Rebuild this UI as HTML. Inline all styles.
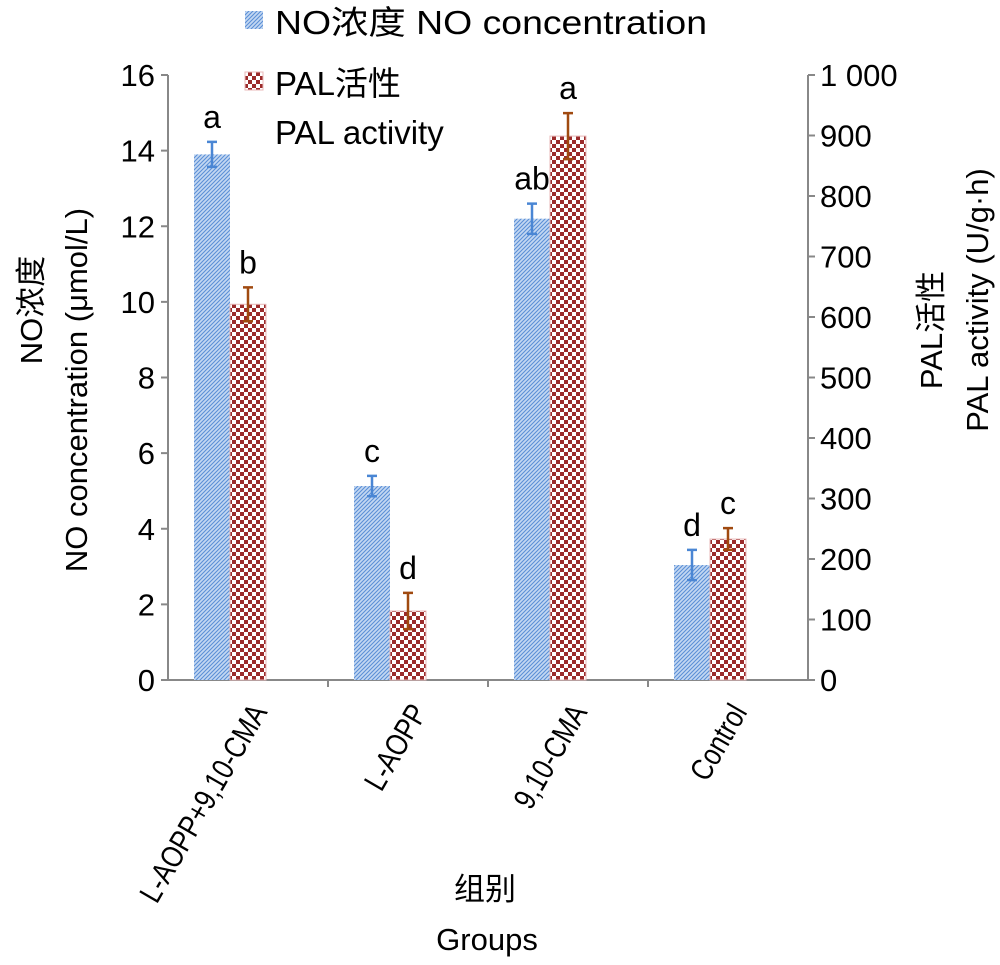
<!DOCTYPE html>
<html><head><meta charset="utf-8"><style>
body{margin:0;background:#fff}
svg text{font-family:"Liberation Sans","Noto Sans CJK SC",sans-serif;fill:#000}
</style></head><body>
<svg id="chart" width="1000" height="965" viewBox="0 0 1000 965" xmlns="http://www.w3.org/2000/svg" style="position:absolute;left:0;top:0">
<defs>
<pattern id="pBlue" width="4" height="4" patternUnits="userSpaceOnUse">
<rect width="4" height="4" fill="#c4d8f2"/>
<path d="M0,4 L4,0 M-1,1 L1,-1 M3,5 L5,3" stroke="#5a8fd6" stroke-width="1.1"/>
</pattern>
<pattern id="pRed" width="8" height="8" patternUnits="userSpaceOnUse">
<rect width="8" height="8" fill="#fff"/>
<rect width="4" height="4" fill="#9b2b2b"/>
<rect x="4" y="4" width="4" height="4" fill="#9b2b2b"/>
</pattern>
</defs>
<g id="plot"></g>
<g>
<rect x="245" y="11" width="18" height="18" fill="url(#pBlue)"/>
<text x="275" y="34" font-size="33" textLength="432" lengthAdjust="spacingAndGlyphs">NO浓度 NO concentration</text>
<rect x="245" y="72" width="18" height="18" fill="url(#pRed)" stroke="#e8b8b8"/>
<text x="275" y="95" font-size="33">PAL活性</text>
<text x="275" y="144" font-size="33">PAL activity</text>
</g>
<text transform="rotate(-90 42 310)" x="42" y="310" text-anchor="middle" font-size="31">NO浓度</text>
<text transform="rotate(-90 87 390)" x="87" y="390" text-anchor="middle" font-size="31">NO concentration (μmol/L)</text>
<text transform="rotate(-90 942 330)" x="942" y="330" text-anchor="middle" font-size="31">PAL活性</text>
<text transform="rotate(-90 988 300)" x="988" y="300" text-anchor="middle" font-size="31">PAL activity (U/g·h)</text>
<text x="485" y="900" text-anchor="middle" font-size="31">组别</text>
<text x="487" y="950" text-anchor="middle" font-size="31">Groups</text>
</svg>
<script>
const categories=["L-AOPP+9,10-CMA","L-AOPP","9,10-CMA","Control"];
const noValues=[13.9,5.13,12.2,3.04];
const noErrors=[0.33,0.27,0.4,0.4];
const noLetters=["a","c","ab","d"];
const palValues=[621,114,899,233];
const palErrors=[28,30,38,18];
const palLetters=["b","d","a","c"];
const leftTicks=[0,2,4,6,8,10,12,14,16];
const rightTicks=[0,100,200,300,400,500,600,700,800,900,1000];
const rightTickLabels=["0","100","200","300","400","500","600","700","800","900","1 000"];

const X0=168,X1=808,Y0=680,Y1=75;
const yL=v=>Y0-(v/16)*(Y0-Y1);
const yR=v=>Y0-(v/1000)*(Y0-Y1);
const gw=(X1-X0)/categories.length;
const xC=i=>X0+gw*(i+0.5)-18;
const g=document.getElementById('plot');
const NS="http://www.w3.org/2000/svg";
function mk(tag,attrs){const e=document.createElementNS(NS,tag);for(const k in attrs)e.setAttribute(k,attrs[k]);g.appendChild(e);return e;}
function txt(s,attrs){const e=mk('text',attrs);e.textContent=s;return e;}

let e=mk('line',{x1:X0,y1:Y1,x2:X0,y2:Y0,stroke:'#888','stroke-width':2});


e=mk('line',{x1:X1,y1:Y1,x2:X1,y2:Y0,stroke:'#888','stroke-width':2});


e=mk('line',{x1:X0,y1:Y0,x2:X1,y2:Y0,stroke:'#888','stroke-width':2});


leftTicks.forEach(v=>{
 mk('line',{x1:X0-7,y1:yL(v),x2:X0,y2:yL(v),stroke:'#888','stroke-width':2});
 const t=txt(String(v),{x:155,y:yL(v)+11,'text-anchor':'end','font-size':31});
 
 
});
rightTicks.forEach((v,i)=>{
 mk('line',{x1:X1,y1:yR(v),x2:X1+7,y2:yR(v),stroke:'#888','stroke-width':2});
 const t=txt(rightTickLabels[i],{x:820,y:yR(v)+11,'font-size':31});
 
 
});
for(let i=1;i<categories.length;i++){mk('line',{x1:X0+gw*i,y1:Y0,x2:X0+gw*i,y2:Y0+7,stroke:'#888','stroke-width':2});}

const bw=36;
categories.forEach((c,i)=>{
 const xc=xC(i);
 let yt=yL(noValues[i]);
 let b=mk('rect',{x:xc-bw,y:yt,width:bw,height:Y0-yt,fill:'url(#pBlue)'});
 
 
 let ex=xc-bw/2,ya=yL(noValues[i]+noErrors[i]),yb=yL(noValues[i]-noErrors[i]);
 mk('path',{d:`M${ex},${ya}V${yb}M${ex-5},${ya}H${ex+5}M${ex-5},${yb}H${ex+5}`,stroke:'#4a86d4','stroke-width':2.5,fill:'none'});
 let l=txt(noLetters[i],{x:ex,y:ya-14,'text-anchor':'middle','font-size':32});
 
 
 yt=yR(palValues[i]);
 b=mk('rect',{x:xc,y:yt,width:bw,height:Y0-yt,fill:'url(#pRed)',stroke:'#e8b8b8','stroke-width':1});
 
 
 ex=xc+bw/2;ya=yR(palValues[i]+palErrors[i]);yb=yR(palValues[i]-palErrors[i]);
 mk('path',{d:`M${ex},${ya}V${yb}M${ex-5},${ya}H${ex+5}M${ex-5},${yb}H${ex+5}`,stroke:'#a04a10','stroke-width':2.5,fill:'none'});
 l=txt(palLetters[i],{x:ex,y:ya-14,'text-anchor':'middle','font-size':32});
 
 
 const cl=txt(c,{x:xc+38,y:712,'text-anchor':'end','font-size':31,transform:`rotate(-60 ${xc+38} 712)`});
 
 
 const w=cl.getComputedTextLength();
 cl.setAttribute('textLength',w*0.82);
 cl.setAttribute('lengthAdjust','spacingAndGlyphs');
});
</script>
</body></html>
